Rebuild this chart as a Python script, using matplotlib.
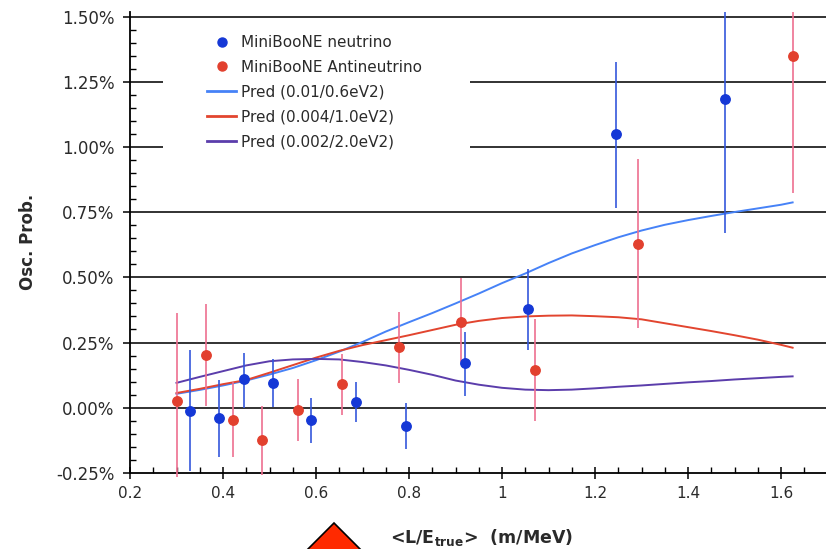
import matplotlib
matplotlib.use("Agg")
import matplotlib.pyplot as plt
from matplotlib.lines import Line2D
from matplotlib.patches import Rectangle, Polygon
from matplotlib.ticker import MultipleLocator, FuncFormatter

# MiniBooNE neutrino points (L/E in m/MeV, probability in %)
nu_x = [0.329, 0.391, 0.446, 0.507, 0.589, 0.685, 0.794, 0.920, 1.055, 1.245, 1.480]
nu_y = [-0.012, -0.041, 0.108, 0.095, -0.049, 0.023, -0.070, 0.170, 0.378, 1.049, 1.186]
nu_hi = [0.220, 0.106, 0.210, 0.185, 0.037, 0.100, 0.017, 0.292, 0.533, 1.326, 1.520]
nu_lo = [-0.242, -0.190, 0.000, 0.001, -0.136, -0.056, -0.159, 0.043, 0.222, 0.768, 0.670]

# MiniBooNE antineutrino points
anu_x = [0.300, 0.363, 0.421, 0.484, 0.561, 0.655, 0.779, 0.911, 1.072, 1.293, 1.626]
anu_y = [0.024, 0.203, -0.046, -0.126, -0.009, 0.091, 0.231, 0.327, 0.146, 0.630, 1.351]
anu_hi = [0.363, 0.396, 0.097, 0.006, 0.110, 0.204, 0.367, 0.497, 0.341, 0.954, 1.520]
anu_lo = [-0.268, 0.008, -0.188, -0.258, -0.130, -0.027, 0.093, 0.177, -0.050, 0.305, 0.824]

# predicted oscillation curves
pred_x = [0.30, 0.35, 0.40, 0.45, 0.50, 0.55, 0.60, 0.65, 0.70, 0.75, 0.80, 0.85, 0.90, 0.95,
          1.00, 1.05, 1.10, 1.15, 1.20, 1.25, 1.30, 1.35, 1.40, 1.45, 1.50, 1.55, 1.60, 1.625]
pred_06 = [0.053, 0.068, 0.085, 0.104, 0.127, 0.152, 0.182, 0.215, 0.252, 0.292, 0.328, 0.363,
           0.400, 0.438, 0.478, 0.515, 0.555, 0.592, 0.624, 0.654, 0.680, 0.702, 0.720, 0.736,
           0.751, 0.765, 0.779, 0.788]
pred_10 = [0.056, 0.072, 0.090, 0.106, 0.134, 0.163, 0.192, 0.218, 0.240, 0.259, 0.278, 0.298,
           0.318, 0.333, 0.344, 0.350, 0.353, 0.354, 0.351, 0.347, 0.339, 0.324, 0.309, 0.294,
           0.278, 0.261, 0.241, 0.230]
pred_20 = [0.095, 0.118, 0.140, 0.162, 0.178, 0.185, 0.187, 0.185, 0.175, 0.162, 0.145, 0.126,
           0.104, 0.088, 0.076, 0.069, 0.067, 0.069, 0.074, 0.080, 0.085, 0.091, 0.097, 0.102,
           0.108, 0.113, 0.118, 0.120]

labels = ["MiniBooNE neutrino", "MiniBooNE Antineutrino",
          "Pred (0.01/0.6eV2)", "Pred (0.004/1.0eV2)", "Pred (0.002/2.0eV2)"]

W, H = 826, 549
fig = plt.figure(figsize=(W / 100, H / 100), dpi=100)
ax = fig.add_axes([130 / W, (H - 472.7) / H, 1 - 130 / W, (472.7 - 11.8) / H])

ax.set_xlim(0.2, 0.2 + (W - 130) / 465.0)
ax.set_ylim(-0.25, 1.52)

txt = "#2a2a2a"
ax.yaxis.set_major_locator(MultipleLocator(0.25))
ax.yaxis.set_minor_locator(MultipleLocator(0.05))
ax.xaxis.set_major_locator(MultipleLocator(0.2))
ax.xaxis.set_minor_locator(MultipleLocator(0.05))
ax.yaxis.set_major_formatter(FuncFormatter(lambda v, p: "%.2f%%" % v))
ax.xaxis.set_major_formatter(FuncFormatter(lambda v, p: "%g" % round(v, 2)))
ax.tick_params(axis="y", which="major", direction="out", length=5, width=1.1,
               labelsize=12, labelcolor=txt, pad=6)
ax.tick_params(axis="y", which="minor", direction="in", length=4, width=1.0)
ax.tick_params(axis="x", which="major", direction="inout", length=9, width=1.1,
               labelsize=11, labelcolor=txt, pad=5)
ax.tick_params(axis="x", which="minor", direction="in", length=4, width=1.0)

for s in ["top", "right"]:
    ax.spines[s].set_visible(False)
for s in ["left", "bottom"]:
    ax.spines[s].set_linewidth(1.3)

# horizontal grid lines
for g in [0.0, 0.25, 0.5, 0.75, 1.0, 1.25, 1.5]:
    ax.axhline(g, color="#222222", lw=1.3, zorder=1)

# white legend backing that hides the grid behind it
ax.add_patch(Rectangle((163, H - 157), 307, 130, transform=None,
                       facecolor="white", edgecolor="none", zorder=2))

c_nu, c_nu_err = "#1538d6", "#3558dc"
c_anu, c_anu_err = "#e2402e", "#ee6f90"
c06, c10, c20 = "#4682f7", "#e2452f", "#5b3dab"

ax.plot(pred_x, pred_06, color=c06, lw=1.4, zorder=3)
ax.plot(pred_x, pred_10, color=c10, lw=1.4, zorder=3)
ax.plot(pred_x, pred_20, color=c20, lw=1.4, zorder=3)

ax.vlines(nu_x, nu_lo, nu_hi, color=c_nu_err, lw=1.2, zorder=4, clip_on=False)
ax.vlines(anu_x, anu_lo, anu_hi, color=c_anu_err, lw=1.2, zorder=4, clip_on=False)
ax.plot(nu_x, nu_y, "o", color=c_nu, ms=6.8, zorder=5, clip_on=False)
ax.plot(anu_x, anu_y, "o", color=c_anu, ms=6.8, zorder=5, clip_on=False)

handles = [
    Line2D([], [], ls="none", marker="o", color=c_nu, ms=6.5),
    Line2D([], [], ls="none", marker="o", color=c_anu, ms=6.5),
    Line2D([], [], color=c06, lw=2),
    Line2D([], [], color=c10, lw=2),
    Line2D([], [], color=c20, lw=2),
]
ax.legend(handles, labels, loc="upper left",
          bbox_to_anchor=((207 - 130) / (W - 130), 1 - (35 - 11.8) / 460.9),
          frameon=False, fontsize=11, handlelength=1.9, handletextpad=0.3,
          labelspacing=0.64, borderpad=0, borderaxespad=0, labelcolor=txt)

ax.set_ylabel("Osc. Prob.", fontsize=12, fontweight="bold", color=txt, labelpad=14)
fig.text(482 / W, 1 - 537 / H, r"<L/E$_{\mathbf{true}}$>  (m/MeV)", ha="center", va="center",
         fontsize=12.5, fontweight="bold", color=txt)

# red marker triangle under the axis
fig.patches.append(Polygon([(334, H - 523), (298, H - 559), (370, H - 559)], closed=True,
                           transform=None, facecolor="#ff2a00", edgecolor="black", lw=1.2))

fig.savefig("out.png", dpi=100)
